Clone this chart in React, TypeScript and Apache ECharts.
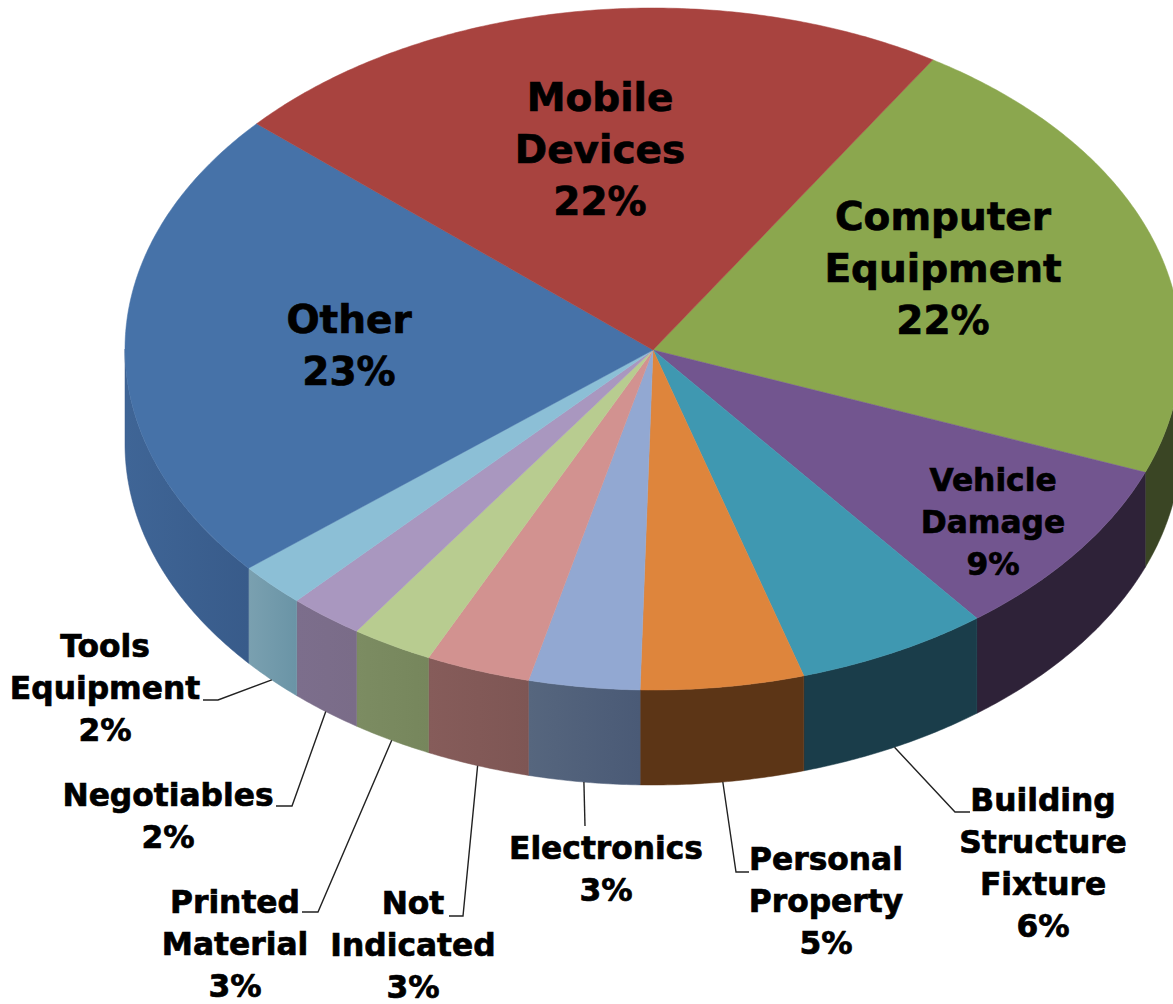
import React, { useEffect, useRef } from "react";
import * as echarts from "echarts";

// Clockwise from the top of the pie
const categories = [
  "Computer\nEquipment",
  "Vehicle\nDamage",
  "Building\nStructure\nFixture",
  "Personal\nProperty",
  "Electronics",
  "Not\nIndicated",
  "Printed\nMaterial",
  "Negotiables",
  "Tools\nEquipment",
  "Other",
  "Mobile\nDevices",
];
const shares = [22.0, 8.6, 5.9, 5.0, 3.4, 3.2, 2.5, 2.3, 2.1, 22.6, 22.4];
const percentLabels = ["22%", "9%", "6%", "5%", "3%", "3%", "3%", "2%", "2%", "23%", "22%"];

const topColors = ["#8BA74E", "#72558F", "#3F98B1", "#DE853C", "#92A8D2", "#D29290", "#B8CC90", "#A997BF", "#8CBFD6", "#4672A8", "#A8433F"];
const wallColors: string[][] = [
  ["#3A4524", "#3A4524"],
  ["#2E2238", "#2E2238"],
  ["#1A3D4A", "#1A3D4A"],
  ["#5C3516", "#5C3516"],
  ["#56667E", "#4A5A76"],
  ["#865C5A", "#7E5654"],
  ["#7C8C62", "#76865C"],
  ["#7C6E8C", "#7A6C88"],
  ["#7AA0B0", "#6A94A6"],
  ["#3F6596", "#385B8A"],
  ["#7A2E2C", "#7A2E2C"],
];

// Label layout: [centre x, centre y, font size, line height]
const labelBoxes = [
  [943, 268, 39, 52],
  [993, 522, 31.3, 42],
  [1043, 863, 31.3, 42],
  [826, 901, 31.3, 42],
  [606, 869, 31.3, 42],
  [413, 945, 31.3, 42],
  [235, 944, 31.3, 42],
  [168, 816, 31.3, 42],
  [105, 688, 31.3, 42],
  [349, 345, 39, 52],
  [600, 149, 39, 52],
];
// Leader elbows: null means the label sits on the slice
const leaderElbows: (number[][] | null)[] = [
  null,
  null,
  [[955, 812], [970, 812]],
  [[736, 872], [749, 872]],
  [[585, 826]],
  [[463, 916], [449, 916]],
  [[318, 912], [302, 912]],
  [[292, 806], [276, 806]],
  [[218, 700], [203, 700]],
  null,
  null,
];

const CX = 653;
const CY = 349;
const RX = 528;
const RY = 341;
const DEPTH = 95;
const START_DEG = 32;
const FONT = '"DejaVu Sans", sans-serif';

const total = shares.reduce((a, b) => a + b, 0);
const starts: number[] = [];
shares.reduce((acc, v, i) => {
  starts[i] = acc;
  return acc + (v / total) * 360;
}, START_DEG);

const rim = (deg: number, dy = 0) => {
  const t = (deg * Math.PI) / 180;
  return [CX + RX * Math.sin(t), CY - RY * Math.cos(t) + dy];
};

const arcPoints = (a: number, b: number, dy = 0) => {
  const pts: number[][] = [];
  const steps = Math.max(2, Math.ceil((b - a) / 0.5));
  for (let i = 0; i <= steps; i++) pts.push(rim(a + ((b - a) * i) / steps, dy));
  return pts;
};

function renderSlice(params: any, api: any) {
  const i = params.dataIndex;
  const sweep = (api.value(0) / total) * 360;
  const a = starts[i];
  const b = a + sweep;
  const children: any[] = [];

  // Side wall: only the front half of the rim (90..270 degrees) can be seen
  const wa = Math.max(a, 90);
  const wb = Math.min(b, 270);
  if (wb > wa) {
    const upper = arcPoints(wa, wb);
    const lower = arcPoints(wa, wb, DEPTH).reverse();
    children.push({
      type: "polygon",
      shape: { points: upper.concat(lower) },
      style: {
        fill: new echarts.graphic.LinearGradient(0, 0, 1, 0, [
          { offset: 0, color: wallColors[i][0] },
          { offset: 1, color: wallColors[i][1] },
        ]),
        stroke: wallColors[i][1],
        lineWidth: 0.5,
      },
    });
  }

  // Top face
  children.push({
    type: "polygon",
    shape: { points: [[CX, CY + 1]].concat(arcPoints(a, b)) },
    style: { fill: topColors[i], stroke: topColors[i], lineWidth: 0.5 },
  });

  // Leader line from the lower rim to the label
  const elbows = leaderElbows[i];
  if (elbows) {
    children.push({
      type: "polyline",
      shape: { points: [rim((a + b) / 2, DEPTH)].concat(elbows) },
      style: { fill: "none", stroke: "#222222", lineWidth: 1.4 },
    });
  }

  // Label
  const [lx, ly, size, lh] = labelBoxes[i];
  children.push({
    type: "text",
    x: lx,
    y: ly,
    z2: 10,
    style: {
      text: `${categories[i]}\n${percentLabels[i]}`,
      align: "center",
      verticalAlign: "middle",
      fill: "#000000",
      stroke: "#000000",
      lineWidth: 0.7,
      fontFamily: FONT,
      fontWeight: "bold",
      fontSize: size,
      lineHeight: lh,
    },
  });

  return { type: "group", children };
}

export default function App() {
  const ref = useRef<HTMLDivElement>(null);
  useEffect(() => {
    const chart = echarts.init(ref.current!, undefined, { renderer: "svg" });
    chart.setOption({
      animation: false,
      backgroundColor: "#ffffff",
      series: [
        {
          type: "custom",
          coordinateSystem: "none",
          renderItem: renderSlice,
          data: shares.map((v) => [v]),
          clip: false,
        },
      ],
    });
    return () => chart.dispose();
  }, []);
  return (
    <div
      ref={ref}
      style={{ position: "absolute", left: 0, top: 0, width: 1173, height: 1004 }}
    />
  );
}
